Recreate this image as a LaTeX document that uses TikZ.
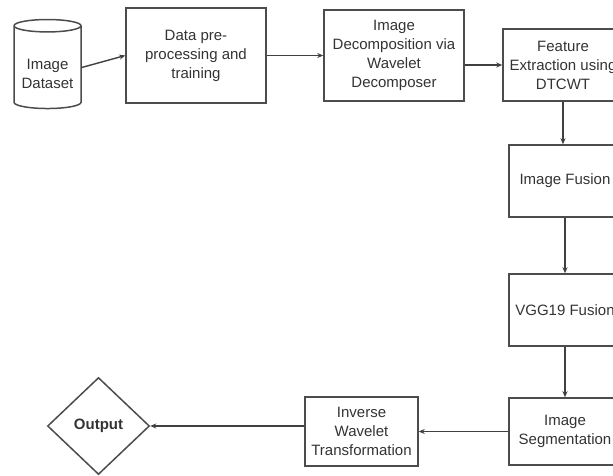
\documentclass[tikz,border=0pt]{standalone}
\usepackage{fontspec}
\setmainfont{Liberation Sans}
\usetikzlibrary{shapes.geometric,arrows.meta}
\begin{document}
\begin{tikzpicture}[x=1pt,y=-1pt,
    box/.style={draw=black!70,line width=1.5pt,align=center,inner sep=0pt,
                font=\fontsize{15}{19}\selectfont,text=black!80},
    flow/.style={-{Stealth[length=6pt,width=5pt]},line width=1.4pt,black!75}]
                    \useasboundingbox (0,0) rectangle (613,476);
                    % \helpgrid
                    \node[box,cylinder,shape border rotate=90,aspect=0.24,
                          minimum width=67,minimum height=89] (data) at (47.5,67.5) {\mbox{}\\[4pt]Image\\Dataset};
                    \node[box,minimum width=140,minimum height=95] (prep) at (196,55.5) {Data pre-\\processing and\\training};
                    \node[box,minimum width=140,minimum height=91] (decomp) at (394,55.5) {Image\\Decomposition via\\Wavelet\\Decomposer};
                    \node[box,minimum width=120,minimum height=72] (feat) at (563,65) {Feature\\Extraction using\\DTCWT};
                    \node[box,minimum width=112,minimum height=72] (fusion) at (565,181) {Image Fusion};
                    \node[box,minimum width=112,minimum height=72] (vgg) at (565,310) {VGG19 Fusion};
                    \node[box,minimum width=112,minimum height=67] (seg) at (565,431.5) {Image\\Segmentation};
                    \node[box,minimum width=113,minimum height=69] (inv) at (361.5,431.5) {Inverse\\Wavelet\\Transformation};
                    \node[box,diamond,minimum width=102,minimum height=97,font=\fontsize{15}{19}\selectfont\bfseries] (out) at (98.5,426) {Output};
                    \draw[flow] (data.east) -- (prep.west);
                    \draw[flow] (prep.east) -- (decomp.west);
                    \draw[flow] (decomp.east |- feat.west) -- (feat.west);
                    \draw[flow] (feat.south) -- (feat.south |- fusion.north);
                    \draw[flow] (fusion.south) -- (vgg.north);
                    \draw[flow] (vgg.south) -- (seg.north);
                    \draw[flow] (seg.west) -- (inv.east);
                    \draw[flow] (inv.west |- out.east) -- (out.east);
                \end{tikzpicture}
\end{document}
